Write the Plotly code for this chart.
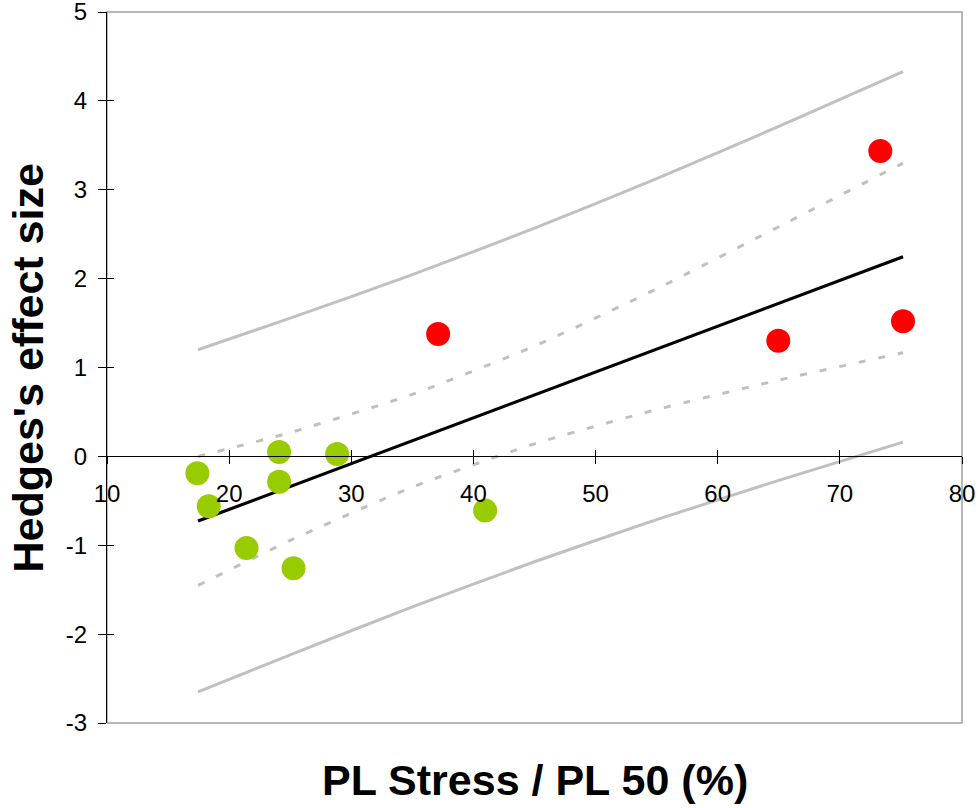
import plotly.graph_objects as go

# Data
green_x = [17.4, 18.33, 21.42, 24.09, 24.09, 25.27, 28.84, 40.96]
green_y = [-0.19, -0.56, -1.03, 0.05, -0.285, -1.26, 0.026, -0.61]
red_x = [37.11, 64.96, 73.31, 75.17]
red_y = [1.376, 1.30, 3.435, 1.52]

fit_x = [17.45, 75.17]
fit_y = [-0.728, 2.246]

band_x = [17.45, 25, 35, 45, 55, 65, 75.17]
upper_pred = [1.20, 1.555, 2.045, 2.568, 3.124, 3.712, 4.33]
lower_pred = [-2.65, -2.233, -1.693, -1.186, -0.712, -0.27, 0.16]
upper_conf = [0.0, 0.268, 0.698, 1.241, 1.885, 2.584, 3.30]
lower_conf = [-1.452, -0.946, -0.346, 0.141, 0.527, 0.858, 1.167]

x_ticks = [10, 20, 30, 40, 50, 60, 70, 80]
x_tick_text = ["10", "20", "30", "40", "50", "60", "70", "80"]
y_ticks = [-3, -2, -1, 0, 1, 2, 3, 4, 5]
y_tick_text = ["-3", "-2", "-1", "0", "1", "2", "3", "4", "5"]

GRAY = "#c0c0c0"
FONT = "Liberation Sans, Arial, sans-serif"

fig = go.Figure()

for yy in (upper_pred, lower_pred):
    fig.add_trace(go.Scatter(x=band_x, y=yy, mode="lines",
                             line=dict(color=GRAY, width=3, shape="spline", smoothing=0.6),
                             hoverinfo="skip", showlegend=False))
for yy in (upper_conf, lower_conf):
    fig.add_trace(go.Scatter(x=band_x, y=yy, mode="lines",
                             line=dict(color=GRAY, width=3, dash="7px,13px", shape="spline", smoothing=0.6),
                             hoverinfo="skip", showlegend=False))

fig.add_trace(go.Scatter(x=fit_x, y=fit_y, mode="lines",
                         line=dict(color="black", width=3.2), showlegend=False))

fig.add_trace(go.Scatter(x=green_x, y=green_y, mode="markers",
                         marker=dict(color="#99cc00", size=24, line=dict(width=0)),
                         showlegend=False))
fig.add_trace(go.Scatter(x=red_x, y=red_y, mode="markers",
                         marker=dict(color="#ff0000", size=24, line=dict(width=0)),
                         showlegend=False))

# invisible trace for overlay axes (inside tick halves)
fig.add_trace(go.Scatter(x=green_x, y=green_y, mode="markers", xaxis="x2", yaxis="y2",
                         marker=dict(opacity=0), hoverinfo="skip", showlegend=False))

zero_pos = 3 / 8

fig.update_layout(
    width=980, height=808,
    margin=dict(l=107, r=18, t=12, b=85, autoexpand=False),
    paper_bgcolor="white", plot_bgcolor="white",
    font=dict(family=FONT, color="black"),
    xaxis=dict(range=[10, 80], tickvals=x_ticks, ticktext=x_tick_text,
               anchor="free", position=zero_pos, automargin=False,
               showline=True, linecolor="black", linewidth=1,
               ticks="outside", ticklen=7, tickcolor="black", tickwidth=1,
               ticklabelstandoff=9, ticklabeloverflow="allow",
               tickfont=dict(size=24, family=FONT, color="black"), showgrid=False, zeroline=False),
    xaxis2=dict(range=[10, 80], tickvals=x_ticks, overlaying="x", matches="x",
                anchor="free", position=zero_pos, showline=False, automargin=False,
                ticks="inside", ticklen=6, tickcolor="black", tickwidth=1,
                showticklabels=False, showgrid=False, zeroline=False),
    yaxis=dict(range=[-3, 5], tickvals=y_ticks, ticktext=y_tick_text, automargin=False,
               showline=True, linecolor="black", linewidth=1,
               ticks="outside", ticklen=8, tickcolor="black", tickwidth=1,
               ticklabelstandoff=6, ticklabeloverflow="allow",
               tickfont=dict(size=24, family=FONT, color="black"), showgrid=False, zeroline=False),
    yaxis2=dict(range=[-3, 5], tickvals=y_ticks, overlaying="y", matches="y",
                anchor="x", showline=False, automargin=False,
                ticks="inside", ticklen=7, tickcolor="black", tickwidth=1,
                showticklabels=False, showgrid=False, zeroline=False),
    shapes=[dict(type="rect", xref="paper", yref="paper", x0=0, x1=1, y0=0, y1=1,
                 line=dict(color="#a0a0a0", width=1.5), layer="below")],
    annotations=[
        dict(text="<b>PL Stress / PL 50 (%)</b>", xref="paper", yref="paper",
             x=0.5, y=-0.08, xanchor="center", yanchor="middle", showarrow=False,
             font=dict(size=43, family=FONT, color="black")),
        dict(text="<b>Hedges's effect size</b>", xref="paper", yref="paper",
             x=-0.0924, y=0.5, xanchor="center", yanchor="middle", textangle=-90,
             showarrow=False, font=dict(size=43, family=FONT, color="black")),
    ],
)

fig.write_html("out.html", config={"displayModeBar": False},
               post_script="document.body.style.margin='0px';")
